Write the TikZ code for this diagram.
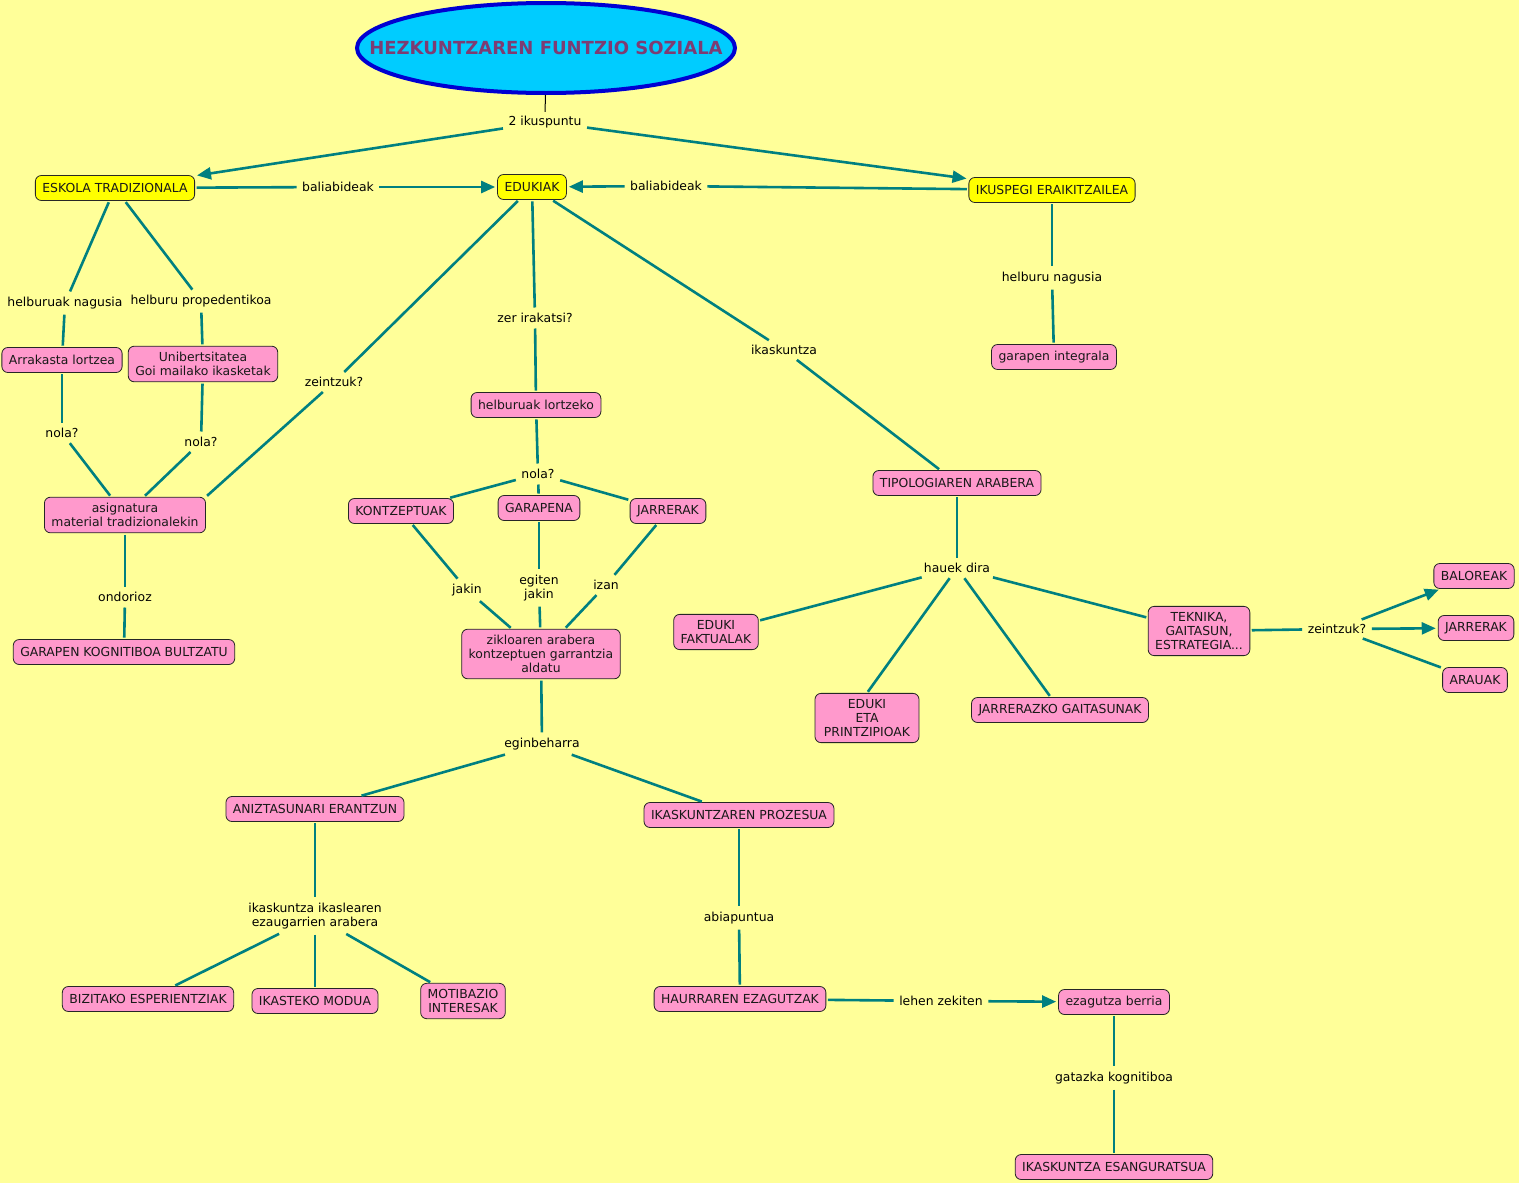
\documentclass[tikz,border=0pt]{standalone}
\usepackage{fontspec}
\setmainfont{DejaVu Sans}
\usetikzlibrary{shapes.geometric,arrows.meta}
\definecolor{bgc}{RGB}{255,255,153}
\definecolor{pinkc}{RGB}{255,153,204}
\definecolor{yelc}{RGB}{255,255,0}
\definecolor{tealc}{RGB}{0,128,128}
\definecolor{titlec}{RGB}{125,60,115}
\definecolor{bluec}{RGB}{0,0,210}
\definecolor{cyanc}{RGB}{0,204,255}
\begin{document}
\begin{tikzpicture}[x=1pt,y=-1pt,
  every node/.style={font=\fontsize{12.4}{14}\selectfont},
  concept/.style={draw=black!85, line width=0.8pt, rounded corners=6pt, fill=pinkc, inner xsep=7pt, inner ysep=6pt, minimum height=25pt, align=center, text=black!90},
  yconcept/.style={concept, fill=yelc},
  lp/.style={inner sep=4pt, align=center, text=black},
  link/.style={draw=tealc, line width=2.6pt, shorten >=1.5pt, shorten <=1.5pt},
  arr/.style={draw=tealc, line width=2.6pt, shorten <=1.5pt, shorten >=2pt, -{Triangle[length=14pt,width=12pt]}}
]
\useasboundingbox (0,0) rectangle (1519,1183);
\fill[bgc] (0,0) rectangle (1519,1183);

% title
\node[ellipse, draw=bluec, line width=4pt, fill=cyanc, minimum width=378pt, minimum height=90pt, inner sep=0pt, text=titlec, font=\bfseries\fontsize{18}{20}\selectfont] (title) at (546,48) {\makebox[0pt][c]{HEZKUNTZAREN FUNTZIO SOZIALA}};

% yellow concepts
\node[yconcept] (eskola) at (115,188) {ESKOLA TRADIZIONALA};
\node[yconcept] (edukiak) at (532,187) {EDUKIAK};
\node[yconcept] (ikuspegi) at (1052,190) {IKUSPEGI ERAIKITZAILEA};

% pink concepts
\node[concept] (arrakasta) at (62,360) {Arrakasta lortzea};
\node[concept] (unib) at (203,364) {Unibertsitatea\\Goi mailako ikasketak};
\node[concept] (asig) at (125,515) {asignatura\\material tradizionalekin};
\node[concept] (garapenk) at (124,652) {GARAPEN KOGNITIBOA BULTZATU};
\node[concept] (helbl) at (536,405) {helburuak lortzeko};
\node[concept] (kontz) at (401,511) {KONTZEPTUAK};
\node[concept] (garapena) at (539,508) {GARAPENA};
\node[concept] (jarrerak) at (668,511) {JARRERAK};
\node[concept] (ziklo) at (541,654) {zikloaren arabera\\kontzeptuen garrantzia\\aldatu};
\node[concept] (tipo) at (957,483) {TIPOLOGIAREN ARABERA};
\node[concept] (garint) at (1054,357) {garapen integrala};
\node[concept] (faktual) at (716,632) {EDUKI\\FAKTUALAK};
\node[concept, minimum width=104pt] (printz) at (867,718) {EDUKI\\ETA\\PRINTZIPIOAK};
\node[concept] (jarrgait) at (1060,710) {JARRERAZKO GAITASUNAK};
\node[concept] (teknika) at (1199,631) {TEKNIKA,\\GAITASUN,\\ESTRATEGIA...};
\node[concept] (baloreak) at (1474,576) {BALOREAK};
\node[concept] (jarrerak2) at (1476,628) {JARRERAK};
\node[concept] (arauak) at (1475,680) {ARAUAK};
\node[concept] (aniz) at (315,809) {ANIZTASUNARI ERANTZUN};
\node[concept] (prozesua) at (739,815) {IKASKUNTZAREN PROZESUA};
\node[concept] (bizi) at (148,999) {BIZITAKO ESPERIENTZIAK};
\node[concept] (modua) at (315,1001) {IKASTEKO MODUA};
\node[concept] (motib) at (463,1001) {MOTIBAZIO\\INTERESAK};
\node[concept] (haur) at (740,999) {HAURRAREN EZAGUTZAK};
\node[concept] (berria) at (1114,1002) {ezagutza berria};
\node[concept] (esang) at (1114,1167) {IKASKUNTZA ESANGURATSUA};

% linking phrases
\node[lp] (lp2) at (545,122) {2 ikuspuntu};
\node[lp] (lbal1) at (338,187) {baliabideak};
\node[lp] (lbal2) at (666,186) {baliabideak};
\node[lp] (lhn) at (65,303) {helburuak nagusia};
\node[lp] (lhp) at (201,301) {helburu propedentikoa};
\node[lp] (lnola1) at (62,433) {nola?};
\node[lp] (lnola2) at (201,442) {nola?};
\node[lp] (lzein1) at (334,382) {zeintzuk?};
\node[lp] (lzer) at (535,318) {zer irakatsi?};
\node[lp] (likask) at (784,350) {ikaskuntza};
\node[lp] (lhnag) at (1052,278) {helburu nagusia};
\node[lp] (lnola3) at (538,474) {nola?};
\node[lp] (ljakin) at (467,590) {jakin};
\node[lp] (legiten) at (539,588) {egiten\\jakin};
\node[lp] (lizan) at (606,585) {izan};
\node[lp] (lond) at (125,597) {ondorioz};
\node[lp] (lhauek) at (957,568) {hauek dira};
\node[lp] (lzein2) at (1337,629) {zeintzuk?};
\node[lp] (legin) at (542,744) {eginbeharra};
\node[lp] (likasl) at (315,916) {ikaskuntza ikaslearen\\ezaugarrien arabera};
\node[lp] (labia) at (739,918) {abiapuntua};
\node[lp] (llehen) at (941,1001) {lehen zekiten};
\node[lp] (lgataz) at (1114,1078) {gatazka kognitiboa};

% connectors
\draw[black, line width=1pt] (title) -- (lp2);
\draw[arr] (lp2) -- (eskola);
\draw[arr] (lp2) -- (ikuspegi);
\draw[link] (eskola) -- (lbal1);
\draw[arr] (lbal1) -- (edukiak);
\draw[link] (ikuspegi) -- (lbal2);
\draw[arr] (lbal2) -- (edukiak);

\draw[link] (eskola) -- (lhn);
\draw[link] (lhn) -- (arrakasta);
\draw[link] (eskola) -- (lhp);
\draw[link] (lhp) -- (unib);
\draw[link] (arrakasta) -- (lnola1);
\draw[link] (lnola1) -- (asig);
\draw[link] (unib) -- (lnola2);
\draw[link] (lnola2) -- (asig);
\draw[link] (edukiak) -- (lzein1);
\draw[link] (lzein1) -- (asig.north east);
\draw[link] (asig) -- (lond);
\draw[link] (lond) -- (garapenk);

\draw[link] (edukiak) -- (lzer);
\draw[link] (lzer) -- (helbl);
\draw[link] (helbl) -- (lnola3);
\draw[link] (lnola3) -- (kontz);
\draw[link] (lnola3) -- (garapena);
\draw[link] (lnola3) -- (jarrerak);
\draw[link] (kontz) -- (ljakin);
\draw[link] (ljakin) -- (ziklo);
\draw[link] (garapena) -- (legiten);
\draw[link] (legiten) -- (ziklo);
\draw[link] (jarrerak) -- (lizan);
\draw[link] (lizan) -- (ziklo);
\draw[link] (ziklo) -- (legin);
\draw[link] (legin) -- (aniz);
\draw[link] (legin) -- (prozesua);
\draw[link] (aniz) -- (likasl);
\draw[link] (likasl) -- (bizi);
\draw[link] (likasl) -- (modua);
\draw[link] (likasl) -- (motib);
\draw[link] (prozesua) -- (labia);
\draw[link] (labia) -- (haur);
\draw[link] (haur) -- (llehen);
\draw[arr] (llehen) -- (berria);
\draw[link] (berria) -- (lgataz);
\draw[link] (lgataz) -- (esang);

\draw[link] (edukiak) -- (likask);
\draw[link] (likask) -- (tipo);
\draw[link] (tipo) -- (lhauek);
\draw[link] (lhauek) -- (faktual);
\draw[link] (lhauek) -- (printz.north);
\draw[link] (lhauek) -- (jarrgait);
\draw[link] (lhauek) -- (teknika);
\draw[link] (teknika) -- (lzein2);
\draw[arr] (lzein2) -- (baloreak);
\draw[arr] (lzein2) -- (jarrerak2);
\draw[link] (lzein2) -- (arauak);

\draw[link] (ikuspegi) -- (lhnag);
\draw[link] (lhnag) -- (garint);
\end{tikzpicture}
\end{document}
